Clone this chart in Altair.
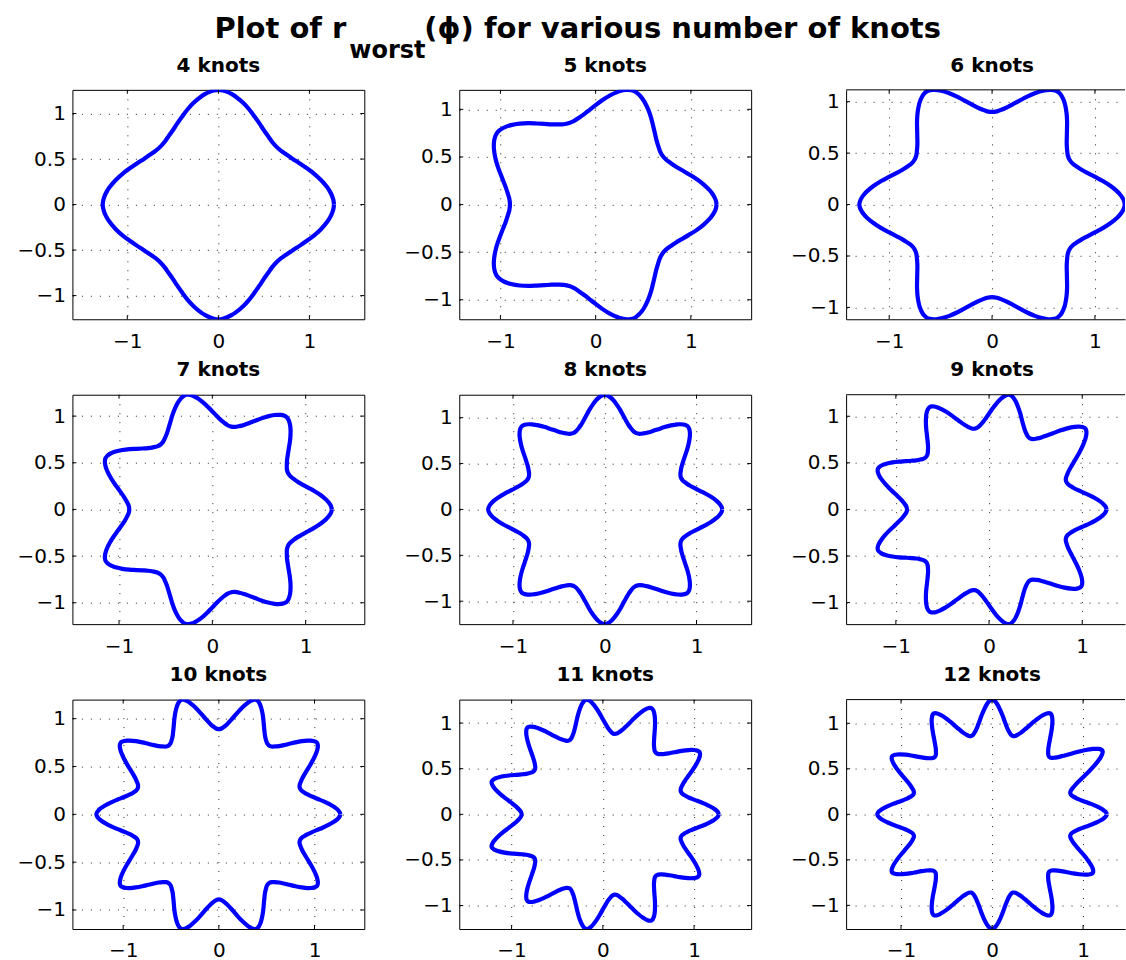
import math
import altair as alt
import pandas as pd

FONT = "DejaVu Sans"
BLUE = "#0000ff"

KNOTS = [4, 5, 6, 7, 8, 9, 10, 11, 12]

# Radius of each outer tip; tip k lies at angle k*360/n (read lobe by lobe)
TIP_R = {
    4: [1.27, 1.26, 1.27, 1.26],
    5: [1.27, 1.26, 1.28, 1.28, 1.26],
    6: [1.29, 1.27, 1.27, 1.29, 1.27, 1.27],
    7: [1.28, 1.27, 1.26, 1.27, 1.27, 1.26, 1.27],
    8: [1.28, 1.28, 1.25, 1.28, 1.27, 1.28, 1.25, 1.28],
    9: [1.26, 1.35, 1.25, 1.27, 1.27, 1.27, 1.27, 1.25, 1.29],
    10: [1.27, 1.27, 1.26, 1.26, 1.27, 1.28, 1.27, 1.26, 1.26, 1.27],
    11: [1.27, 1.26, 1.28, 1.27, 1.26, 1.27, 1.27, 1.26, 1.27, 1.28, 1.25],
    12: [1.26, 1.40, 1.28, 1.26, 1.28, 1.27, 1.26, 1.27, 1.28, 1.26, 1.28, 1.28],
}

# Radius of each inner dip; dip k lies at angle (k+0.5)*360/n
DIP_R = {
    4: [0.90, 0.90, 0.90, 0.90],
    5: [0.87, 0.90, 0.90, 0.90, 0.87],
    6: [0.87, 0.90, 0.87, 0.87, 0.90, 0.87],
    7: [0.90, 0.91, 0.89, 0.89, 0.89, 0.91, 0.90],
    8: [0.90, 0.90, 0.90, 0.90, 0.90, 0.90, 0.90, 0.90],
    9: [0.88, 0.88, 0.88, 0.88, 0.88, 0.88, 0.88, 0.88, 0.88],
    10: [0.89, 0.89, 0.89, 0.89, 0.89, 0.89, 0.89, 0.89, 0.89, 0.89],
    11: [0.89, 0.89, 0.89, 0.89, 0.89, 0.89, 0.89, 0.89, 0.89, 0.89, 0.89],
    12: [0.89, 0.89, 0.89, 0.89, 0.89, 0.89, 0.89, 0.89, 0.89, 0.89, 0.89, 0.89],
}

# Shape of a half lobe: position from tip (0) to dip (1)
# and the fraction of the tip-dip radius difference still present there
PROFILE_U = [0.0, 0.05, 0.1, 0.15, 0.2, 0.3, 0.4, 0.5, 0.6, 0.7, 0.8, 0.9, 1.0]
PROFILE_F = [1.0, 0.985, 0.95, 0.90, 0.84, 0.70, 0.55, 0.40, 0.27, 0.16, 0.08, 0.02, 0.0]

X_TICKS = [-1, 0, 1]
Y_TICKS = [-1, -0.5, 0, 0.5, 1]

W = 292
W3 = 279
H = 229.5
TL = 4
LABEL_FS = 20


def curve(n):
    T, D = TIP_R[n], DIP_R[n]
    period = 360.0 / n
    half = period / 2.0
    pts = []
    prof = list(zip(PROFILE_U, PROFILE_F))
    for k in range(n):
        a0, a1 = k * period, (k + 1) * period
        t0, t1, d = T[k], T[(k + 1) % n], D[k]
        for u, f in prof:
            pts.append((a0 + u * half, d + (t0 - d) * f))
        for u, f in prof[::-1][1:-1]:
            pts.append((a1 - u * half, d + (t1 - d) * f))
    pts.append((360.0, T[0]))
    rows = []
    for i, (a, r) in enumerate(pts):
        rows.append({"i": i,
                     "x": r * math.cos(math.radians(a)),
                     "y": r * math.sin(math.radians(a))})
    return pd.DataFrame(rows)


def panel(idx, n):
    col = idx % 3
    row = idx // 3
    df = curve(n)
    ymin, ymax = float(df.y.min()), float(df.y.max())
    ppu = H / (ymax - ymin)
    xc = (float(df.x.min()) + float(df.x.max())) / 2
    xl = xc - W / (2 * ppu)
    w = W3 if col == 2 else W
    xr = xl + w / ppu
    xs = alt.Scale(domain=[xl, xr], nice=False, zero=False)
    ys = alt.Scale(domain=[ymin, ymax], nice=False, zero=False)
    common = dict(grid=True, gridDash=[1, 8], gridColor="#111111", gridOpacity=0.9,
                  ticks=False, domain=(col == 2), domainColor="#000000", domainWidth=1,
                  labelFont=FONT, labelFontSize=LABEL_FS, labelColor="#000000",
                  labelFlush=False, labelOverlap=False, format="~g", title=None)
    xax = alt.Axis(values=X_TICKS, labelPadding=(11 if row == 2 else 12), **common)
    yax = alt.Axis(values=Y_TICKS, labelPadding=7, **common)

    layers = []
    layers.append(
        alt.Chart(df).mark_line(color=BLUE, strokeWidth=4.2, interpolate="catmull-rom",
                                clip=True, strokeCap="butt", strokeJoin="round")
        .encode(x=alt.X("x:Q", scale=xs, axis=xax),
                y=alt.Y("y:Q", scale=ys, axis=yax),
                order="i:Q")
    )
    ydf = pd.DataFrame({"v": Y_TICKS})
    xdf = pd.DataFrame({"v": X_TICKS})
    tick = dict(color="#000000", strokeWidth=1)
    layers.append(alt.Chart(ydf).mark_rule(**tick).encode(
        y=alt.Y("v:Q", scale=ys, axis=yax), x=alt.value(0), x2=alt.value(TL)))
    layers.append(alt.Chart(xdf).mark_rule(**tick).encode(
        x=alt.X("v:Q", scale=xs, axis=xax), y=alt.value(H), y2=alt.value(H - TL)))
    layers.append(alt.Chart(xdf).mark_rule(**tick).encode(
        x=alt.X("v:Q", scale=xs, axis=xax), y=alt.value(0), y2=alt.value(TL)))
    if col != 2:
        layers.append(alt.Chart(ydf).mark_rule(**tick).encode(
            y=alt.Y("v:Q", scale=ys, axis=yax), x=alt.value(w - TL), x2=alt.value(w)))
    else:
        layers.append(alt.Chart(pd.DataFrame({"a": [0]})).mark_rule(**tick).encode(
            x=alt.value(0), x2=alt.value(w), y=alt.value(0)))

    layers.append(
        alt.Chart(pd.DataFrame({"t": [f"{n} knots"]}))
        .mark_text(font=FONT, fontSize=20, fontWeight="bold", color="#000000",
                   align="center", baseline="alphabetic")
        .encode(text="t:N", x=alt.value(W / 2), y=alt.value(-18.3))
    )

    if idx == 1:
        tstyle = dict(font=FONT, fontWeight="bold", color="#000000", baseline="alphabetic")
        layers.append(
            alt.Chart(pd.DataFrame({"t": ["Plot of r"]}))
            .mark_text(fontSize=29, align="right", **tstyle)
            .encode(text="t:N", x=alt.value(-113), y=alt.value(-51.6)))
        layers.append(
            alt.Chart(pd.DataFrame({"t": ["worst"]}))
            .mark_text(fontSize=24, align="left", **tstyle)
            .encode(text="t:N", x=alt.value(-110), y=alt.value(-31.6)))
        layers.append(
            alt.Chart(pd.DataFrame({"t": ["(\u03d5) for various number of knots"]}))
            .mark_text(fontSize=29, align="left", **tstyle)
            .encode(text="t:N", x=alt.value(-35), y=alt.value(-51.6)))

    ch = alt.layer(*layers).properties(width=w, height=H)
    if col == 2:
        ch = ch.properties(view=alt.ViewBackground(stroke=None))
    return ch


panels = [panel(i, n) for i, n in enumerate(KNOTS)]

pad_left = 71 - 7 - 2.428 * LABEL_FS

chart = (
    alt.concat(*panels, columns=3, spacing={"row": 75, "column": 95}, bounds="flush")
    .properties(padding={"left": pad_left, "top": 13.7, "right": 0, "bottom": 0},
                background="white")
    .configure_view(stroke="#000000", strokeWidth=1)
)

chart.save("out.html", embed_options={"renderer": "svg", "actions": False})
